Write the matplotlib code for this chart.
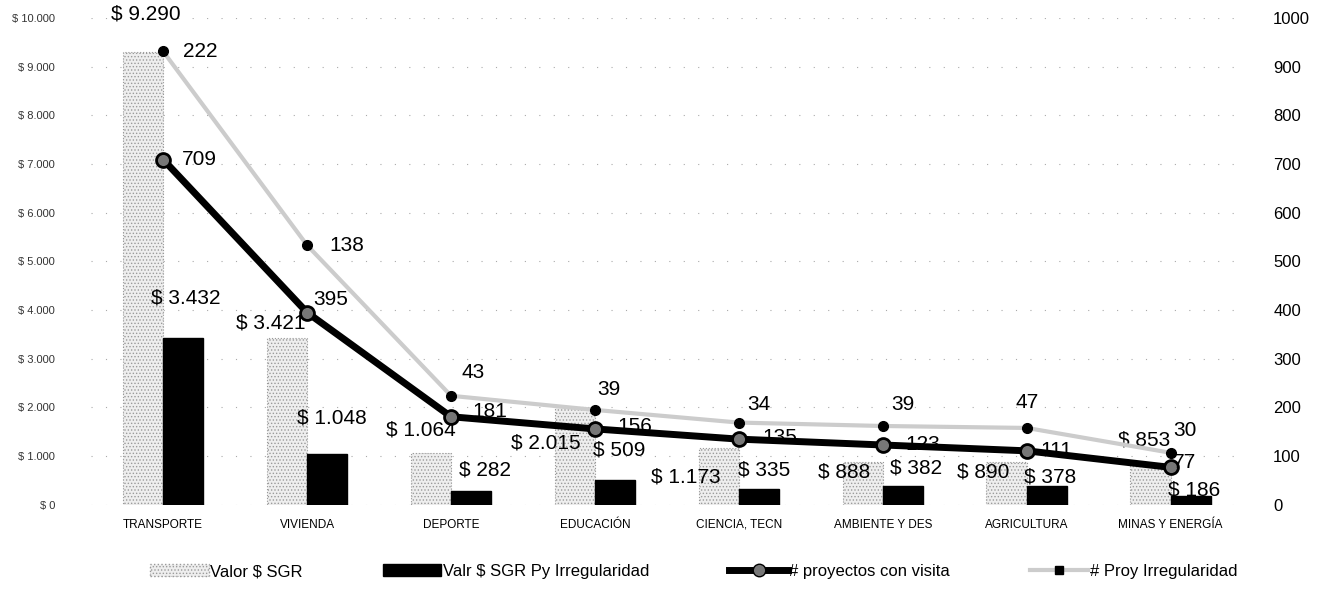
import matplotlib
matplotlib.use("Agg")
import matplotlib.pyplot as plt
from matplotlib.lines import Line2D
from matplotlib.patches import Patch
import numpy as np

categories = ["TRANSPORTE", "VIVIENDA", "DEPORTE", "EDUCACIÓN", "CIENCIA, TECN",
              "AMBIENTE Y DES", "AGRICULTURA", "MINAS Y ENERGÍA"]
valor_sgr = [9290, 3421, 1064, 2015, 1173, 888, 890, 853]
valor_irreg = [3432, 1048, 282, 509, 335, 382, 378, 186]
proy_visita = [709, 395, 181, 156, 135, 123, 111, 77]
proy_irreg = [222, 138, 43, 39, 34, 39, 47, 30]
left_ticks = list(range(0, 10001, 1000))
right_ticks = list(range(0, 1001, 100))

def fmt_money(v):
    return "$ " + f"{v:,}".replace(",", ".")

plt.rcParams['font.family'] = ['Liberation Sans', 'DejaVu Sans']

fig = plt.figure(figsize=(13.22, 5.94), dpi=100)
ax = fig.add_axes([0.069, 0.150, 0.871, 0.820])
ax2 = ax.twinx()

x = np.arange(len(categories))
w = 0.28
plt.rcParams['hatch.color'] = '#a0a0a0'
plt.rcParams['hatch.linewidth'] = 0.6
ax.bar(x - w / 2, valor_sgr, w, color='#eeeeee', edgecolor='#9a9a9a',
       hatch='.....', linewidth=0.8, linestyle=':', zorder=2)
ax.bar(x + w / 2, valor_irreg, w, color='black', edgecolor='black', zorder=2)

ax.set_xlim(-0.5, len(categories) - 0.5)
ax.set_ylim(0, 10000)
ax2.set_ylim(0, 1000)
ax.set_yticks(left_ticks)
ax.set_yticklabels([fmt_money(t) if t else "$ 0" for t in left_ticks], fontsize=8, color='#333333')
ax2.set_yticks(right_ticks)
ax2.set_yticklabels([str(t) for t in right_ticks], fontsize=12)
ax.set_xticks(x)
ax.set_xticklabels(categories, fontsize=8.5)
for a in (ax, ax2):
    for s in a.spines.values():
        s.set_visible(False)
    a.tick_params(length=0)
ax.tick_params(axis='y', pad=26)
ax.tick_params(axis='x', pad=10)
ax2.tick_params(axis='y', pad=22)
ax.yaxis.grid(True, linestyle=(0, (1, 12)), color='#aaaaaa', linewidth=0.8, zorder=0)
ax.set_axisbelow(True)

stacked = np.array(proy_visita) + np.array(proy_irreg)
ax2.plot(x, stacked, color='#cccccc', linewidth=3, marker='o', markersize=7,
         markerfacecolor='black', markeredgecolor='black', zorder=3)
ax2.plot(x, proy_visita, color='black', linewidth=5, marker='o', markersize=10,
         markerfacecolor='#777777', markeredgecolor='black', markeredgewidth=2, zorder=4)

fs = 15
sgr_off = [(3, 38), (-16, 15), (-10, 23), (-29, -36), (-33, -29), (-19, -10), (-23, -10), (-6, 23)]
irr_off = [(2, 40), (5, 36), (14, 21), (4, 30), (5, 19), (13, 18), (3, 9), (3, 6)]
vis_off = [(36, 0), (24, 13), (39, 5), (40, 2), (41, 2), (40, 0), (30, 0), (14, 5)]
pir_off = [(37, 0), (40, 0), (22, 23), (14, 20), (20, 18), (20, 21), (0, 25), (14, 22)]

for i in range(len(categories)):
    ax.annotate(fmt_money(valor_sgr[i]), (x[i] - w / 2, valor_sgr[i]), xytext=sgr_off[i],
                textcoords='offset pixels', ha='center', va='center', fontsize=fs, zorder=6)
    ax.annotate(fmt_money(valor_irreg[i]), (x[i] + w / 2, valor_irreg[i]), xytext=irr_off[i],
                textcoords='offset pixels', ha='center', va='center', fontsize=fs, zorder=6)
    ax2.annotate(str(proy_visita[i]), (x[i], proy_visita[i]), xytext=vis_off[i],
                 textcoords='offset pixels', ha='center', va='center', fontsize=fs, zorder=6)
    ax2.annotate(str(proy_irreg[i]), (x[i], stacked[i]), xytext=pir_off[i],
                 textcoords='offset pixels', ha='center', va='center', fontsize=fs, zorder=6)

handles = [
    Patch(facecolor='#eeeeee', edgecolor='#9a9a9a', hatch='.....', linestyle=':'),
    Patch(facecolor='black', edgecolor='black'),
    Line2D([], [], color='black', linewidth=5, marker='o', markersize=9,
           markerfacecolor='#777777', markeredgecolor='black'),
    Line2D([], [], color='#cccccc', linewidth=3, marker='s', markersize=6,
           markerfacecolor='black', markeredgecolor='black'),
]
labels = ["Valor $ SGR", "Valr $ SGR Py Irregularidad", "# proyectos con visita", "# Proy Irregularidad"]
fig.legend(handles, labels, loc='lower center', bbox_to_anchor=(0.525, 0.0), ncol=4,
           frameon=False, fontsize=12, handlelength=3.5, handletextpad=0.1, columnspacing=4.8)

fig.savefig("out.png", dpi=100)
